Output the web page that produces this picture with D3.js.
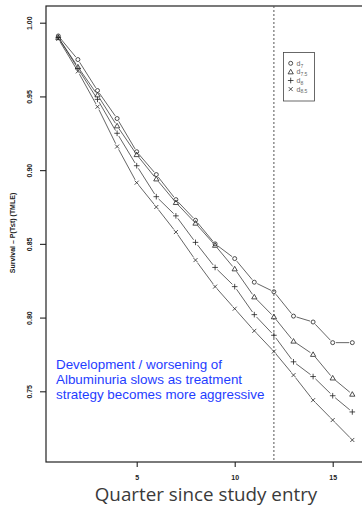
<!DOCTYPE html>
<html>
<head>
<meta charset="utf-8">
<script src="https://cdn.jsdelivr.net/npm/d3@7"></script>
<style>
  body { margin: 0; background: #fff; }
  svg { display: block; }
</style>
</head>
<body>
<div id="chart"></div>
<script>
// quarters since study entry
var quarters = [1,2,3,4,5,6,7,8,9,10,11,12,13,14,15,16];
// survival estimates per treatment threshold
var d7  = [0.991,0.975,0.954,0.935,0.9125,0.897,0.880,0.866,0.850,0.840,0.824,0.8175,0.801,0.797,0.783,0.783];
var d75 = [0.990,0.970,0.951,0.930,0.9105,0.894,0.878,0.864,0.849,0.833,0.814,0.8005,0.784,0.775,0.759,0.748];
var d8  = [0.990,0.969,0.948,0.925,0.903,0.882,0.869,0.851,0.834,0.821,0.802,0.788,0.770,0.760,0.747,0.736];
var d85 = [0.989,0.967,0.943,0.916,0.8915,0.875,0.858,0.839,0.821,0.806,0.791,0.777,0.761,0.744,0.7305,0.717];
var seriesNames = ["d7","d7.5","d8","d8.5"];
var xTicks = [5,10,15];
var yTicks = [0.75,0.80,0.85,0.90,0.95,1.00];
var cutoff = 12;

var W = 362, H = 510;
var svg = d3.select("#chart").append("svg")
    .attr("width", W).attr("height", H);

var x = d3.scaleLinear().domain([1,16]).range([58.3, 352.3]);
var y = d3.scaleLinear().domain([0.75,1.0]).range([391.3, 22.7]);

var plotL = 46, plotT = 6, plotB = 462, plotR = 380;
var ink = "#222";

// plot box
svg.append("rect")
    .attr("x", plotL).attr("y", plotT)
    .attr("width", plotR - plotL).attr("height", plotB - plotT)
    .attr("fill", "none").attr("stroke", ink).attr("stroke-width", 1.2);

// axes
var yAxis = svg.append("g")
    .attr("transform", "translate(" + plotL + ",0)")
    .call(d3.axisLeft(y).tickValues(yTicks).tickSize(6).tickPadding(9)
      .tickFormat(d3.format(".2f")));
yAxis.select(".domain").remove();
yAxis.selectAll("line").attr("stroke", ink).attr("stroke-width", 1.1);
// tick groups are already translated, so rotate around the local origin
yAxis.selectAll("text")
    .attr("x", 0).attr("y", 0).attr("dy", "0.35em")
    .attr("transform", "translate(-16,0) rotate(-90)")
    .attr("text-anchor", "middle")
    .style("font-family", "Liberation Sans, Arial, sans-serif")
    .style("font-size", "7px").style("font-weight", "bold").attr("fill", ink);

var xAxis = svg.append("g")
    .attr("transform", "translate(0," + plotB + ")")
    .call(d3.axisBottom(x).tickValues(xTicks).tickSize(5).tickPadding(8));
xAxis.select(".domain").remove();
xAxis.selectAll("line").attr("stroke", ink).attr("stroke-width", 1.1);
xAxis.selectAll("text")
    .style("font-family", "Liberation Sans, Arial, sans-serif")
    .style("font-size", "7px").style("font-weight", "bold").attr("fill", ink);

// cutoff line
svg.append("line")
    .attr("x1", x(cutoff)).attr("x2", x(cutoff))
    .attr("y1", plotT).attr("y2", plotB)
    .attr("stroke", "#555").attr("stroke-width", 1)
    .attr("stroke-dasharray", "2,2");

// series lines with gaps around the points (R type = "b")
var allSeries = [d7, d75, d8, d85];
var gap = 3.2;
allSeries.forEach(function(vals){
  var pts = quarters.map(function(q,i){ return [x(q), y(vals[i])]; });
  for (var i = 0; i < pts.length - 1; i++) {
    var a = pts[i], b = pts[i+1];
    var dx = b[0]-a[0], dy = b[1]-a[1], len = Math.sqrt(dx*dx+dy*dy);
    if (len <= 2*gap) continue;
    var ux = dx/len, uy = dy/len;
    svg.append("line")
      .attr("x1", a[0]+ux*gap).attr("y1", a[1]+uy*gap)
      .attr("x2", b[0]-ux*gap).attr("y2", b[1]-uy*gap)
      .attr("stroke", ink).attr("stroke-width", 0.7);
  }
});

// point symbols
function symbol(g, k, cx, cy) {
  if (k === 0) {
    g.append("circle").attr("cx", cx).attr("cy", cy).attr("r", 2)
      .attr("fill", "none").attr("stroke", ink).attr("stroke-width", 0.8);
  } else if (k === 1) {
    var s = 2.6;
    g.append("path")
      .attr("d", "M" + cx + "," + (cy - s) + "L" + (cx + s) + "," + (cy + s*0.75) + "L" + (cx - s) + "," + (cy + s*0.75) + "Z")
      .attr("fill", "none").attr("stroke", ink).attr("stroke-width", 0.8);
  } else if (k === 2) {
    var s2 = 2.8;
    g.append("path")
      .attr("d", "M" + (cx - s2) + "," + cy + "H" + (cx + s2) + "M" + cx + "," + (cy - s2) + "V" + (cy + s2))
      .attr("stroke", ink).attr("stroke-width", 0.8);
  } else {
    var s3 = 2;
    g.append("path")
      .attr("d", "M" + (cx - s3) + "," + (cy - s3) + "L" + (cx + s3) + "," + (cy + s3) + "M" + (cx - s3) + "," + (cy + s3) + "L" + (cx + s3) + "," + (cy - s3))
      .attr("stroke", ink).attr("stroke-width", 0.8);
  }
}
var ptsG = svg.append("g");
allSeries.forEach(function(vals, k){
  quarters.forEach(function(q,i){ symbol(ptsG, k, x(q), y(vals[i])); });
});

// legend
var lg = svg.append("g");
lg.append("rect").attr("x", 283.5).attr("y", 52.5).attr("width", 31).attr("height", 48.5)
  .attr("fill", "#fff").attr("stroke", "#444").attr("stroke-width", 0.8);
seriesNames.forEach(function(n, k){
  var ly = 63.3 + k * 8.6;
  symbol(lg, k, 290.7, ly);
  var parts = n.split("d");
  var t = lg.append("text").attr("x", 296.5).attr("y", ly + 2.5)
    .style("font-family", "Liberation Sans, Arial, sans-serif")
    .style("font-size", "7px").attr("fill", "#666");
  t.append("tspan").text("d");
  t.append("tspan").attr("dy", 1.8).style("font-size", "5px").text(parts[1]);
});

// y axis title
svg.append("text")
  .attr("transform", "translate(15,233) rotate(-90)")
  .attr("text-anchor", "middle")
  .style("font-family", "Liberation Sans, Arial, sans-serif")
  .style("font-size", "7px").style("font-weight", "bold").attr("fill", ink)
  .text("Survival \u2013 P(T\u2264t) (TMLE)");

// x axis title
svg.append("text")
  .attr("x", 206).attr("y", 501)
  .attr("text-anchor", "middle")
  .style("font-family", "Open Sans, sans-serif")
  .style("font-size", "18.8px").attr("fill", "#3a3a3a")
  .text("Quarter since study entry");

// annotation
var note = ["Development / worsening of", "Albuminuria slows as treatment", "strategy becomes more aggressive"];
svg.append("g").selectAll("text").data(note).join("text")
  .attr("x", 56).attr("y", function(d,i){ return 369 + i * 15.2; })
  .style("font-family", "Liberation Sans, Arial, sans-serif")
  .style("font-size", "13.4px").attr("fill", "#1f3dff")
  .text(function(d){ return d; });
</script>
</body>
</html>
